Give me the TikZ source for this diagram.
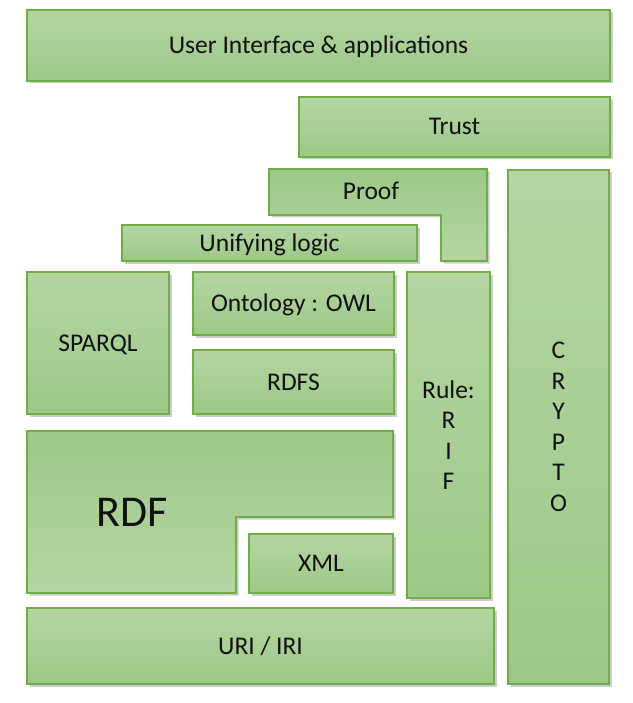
\documentclass[tikz,border=0pt]{standalone}
\usepackage{fontspec}
\setmainfont{Carlito}
\usetikzlibrary{shadows}
\definecolor{LayerLight}{HTML}{B5D5A3}
\definecolor{LayerDark}{HTML}{9CC986}
\definecolor{LayerEdge}{HTML}{70AD47}
\definecolor{InkBlack}{HTML}{111111}

\begin{document}
\begin{tikzpicture}[x=1pt,y=-1pt,
  shade base/.style={draw=LayerEdge,line width=1.2pt,
    drop shadow={shadow xshift=2.5pt,shadow yshift=-2.5pt,fill=black!40}},
  layer/.style={shade base,top color=LayerLight,bottom color=LayerDark,
    inner sep=0pt,align=center,text=InkBlack,font=\fontsize{25.5}{30.5}\selectfont},
  flipped/.style={shade base,top color=LayerDark,bottom color=LayerLight},
  oneline/.style={text height=16pt,text depth=0pt},
  layertext/.style={inner sep=0pt,oneline,text=InkBlack,font=\fontsize{25.5}{30.5}\selectfont}]
  \useasboundingbox (0,0) rectangle (632,703);
  % rectangular layers
  \node[layer,oneline,minimum width=583pt,minimum height=71pt] (ui) at (318.5,45.5) {User Interface \& applications};
  \node[layer,oneline,minimum width=311pt,minimum height=60pt] (trust) at (454.5,127) {Trust};
  \node[layer,minimum width=101pt,minimum height=514pt] (crypto) at (558.5,427) {C\\R\\Y\\P\\T\\O};
  \node[layer,oneline,minimum width=295pt,minimum height=36pt] (unify) at (269.5,243) {Unifying logic};
  \node[layer,oneline,minimum width=142pt,minimum height=142pt] (sparql) at (98,343) {SPARQL};
  \node[layer,oneline,minimum width=201pt,minimum height=63pt] (owl) at (293.5,303.5) {Ontology : OWL};
  \node[layer,oneline,minimum width=201pt,minimum height=64pt] (rdfs) at (293.5,382) {RDFS};
  \node[layer,minimum width=83pt,minimum height=326pt] (rif) at (448.5,435) {Rule:\\R\\I\\F};
  \node[layer,oneline,minimum width=144pt,minimum height=59pt] (xml) at (321,563.5) {XML};
  \node[layer,oneline,minimum width=467pt,minimum height=76pt] (uri) at (260.5,646) {URI / IRI};
  % L-shaped layers
  \draw[flipped] (269,169) -- (487,169) -- (487,261) -- (441,261) -- (441,215) -- (269,215) -- cycle;
  \node[layertext] (proof) at (371,192) {Proof};
  \draw[flipped] (27,431) -- (393,431) -- (393,517) -- (236,517) -- (236,593) -- (27,593) -- cycle;
  \node[layertext,text height=28pt,font=\fontsize{44}{50}\selectfont] (rdf) at (132.5,512) {RDF};
\end{tikzpicture}
\end{document}
